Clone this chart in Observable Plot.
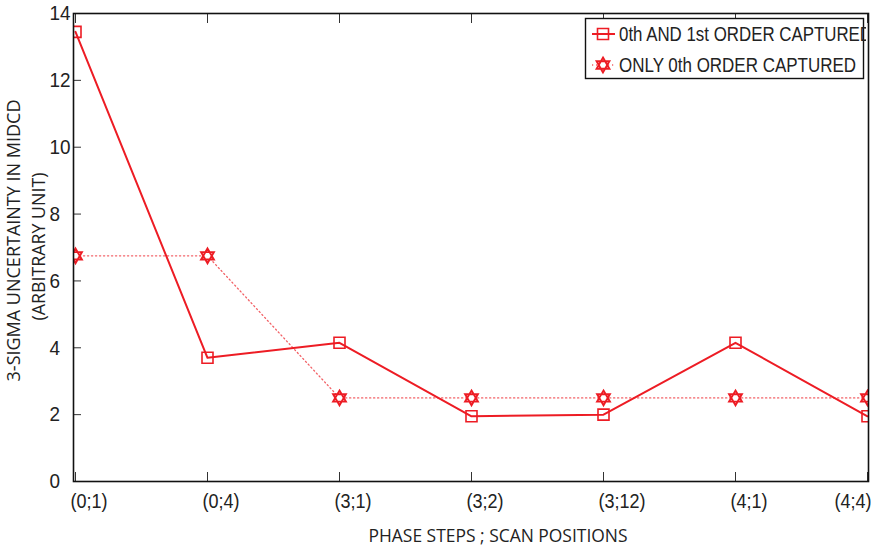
<!DOCTYPE html>
<html><head><meta charset="utf-8">
<script src="https://cdn.jsdelivr.net/npm/d3@7"></script>
<script src="https://cdn.jsdelivr.net/npm/@observablehq/plot@0.6"></script>
<style>
html,body{margin:0;padding:0;background:#fff;}
#wrap{position:relative;width:873px;height:548px;overflow:hidden;background:#fff;}
#legend{position:absolute;left:0;top:0;}
</style></head><body><div id="wrap"></div>
<script>
// ---- data ----
const categories = ["(0;1)", "(0;4)", "(3;1)", "(3;2)", "(3;12)", "(4;1)", "(4;4)"];
const bothOrders = [13.45, 3.7, 4.15, 1.95, 2.0, 4.15, 1.95];
const zerothOnly = [6.75, 6.75, 2.5, 2.5, 2.5, 2.5, 2.5];
const yTicks = [0, 2, 4, 6, 8, 10, 12, 14];
const seriesNames = ["0th AND 1st ORDER CAPTURED", "ONLY 0th ORDER CAPTURED"];
const xTitle = "PHASE STEPS ; SCAN POSITIONS";
const yTitle = ["3-SIGMA UNCERTAINTY IN MIDCD", "(ARBITRARY UNIT)"];

const rows = categories.map((c, i) => ({cat: c, a: bothOrders[i], b: zerothOnly[i]}));

const red = "#ed1c24";
const sansFont = "'Liberation Sans', Arial, Helvetica, sans-serif";
const titleFont = "'Open Sans', 'Noto Sans', sans-serif";

// custom symbols: r = sqrt(size/PI) is the nominal radius
const hexagram = {
  draw(ctx, size) {
    const r = Math.sqrt(size / Math.PI);
    for (const rot of [-Math.PI / 2, Math.PI / 2]) {
      for (let i = 0; i < 3; i++) {
        const a = rot + i * 2 * Math.PI / 3;
        const x = r * Math.cos(a), y = r * Math.sin(a);
        if (i) ctx.lineTo(x, y); else ctx.moveTo(x, y);
      }
      ctx.closePath();
    }
  }
};
const squareSym = {
  draw(ctx, size) {
    const h = Math.sqrt(size / Math.PI);
    ctx.moveTo(-h, -h); ctx.lineTo(h, -h); ctx.lineTo(h, h); ctx.lineTo(-h, h); ctx.closePath();
  }
};

const last = categories[categories.length - 1];

const plot = Plot.plot({
  width: 873, height: 548,
  marginLeft: 73, marginRight: 5, marginTop: 13, marginBottom: 67,
  style: {fontFamily: sansFont, background: "white", overflow: "visible"},
  x: {type: "point", domain: categories, padding: 0, axis: null},
  y: {domain: [0, 14], axis: null},
  marks: [
    Plot.lineY(rows, {x: "cat", y: "b", stroke: red, strokeWidth: 1.3, strokeDasharray: "1.2,2.8", strokeOpacity: 0.7}),
    Plot.lineY(rows, {x: "cat", y: "a", stroke: red, strokeWidth: 2}),
    Plot.dot(rows, {x: "cat", y: "b", symbol: hexagram, r: 7.4, stroke: red, strokeWidth: 1.9, fill: "white", clip: "frame"}),
    Plot.dot(rows, {x: "cat", y: "a", symbol: squareSym, r: 5.5, stroke: red, strokeWidth: 1.6, fill: "none", clip: "frame"}),
    Plot.axisX({anchor: "bottom", tickSize: -9, tickFormat: () => "", label: null, stroke: "#333"}),
    Plot.axisX({anchor: "top", tickSize: -9, tickFormat: () => "", label: null, stroke: "#333"}),
    Plot.axisY({anchor: "left", ticks: yTicks, tickSize: -8, tickFormat: () => "", label: null, stroke: "#333"}),
    Plot.frame({stroke: "#111", strokeWidth: 1.6}),
    // tick labels
    Plot.text(categories.filter(c => c !== last), {x: d => d, text: d => d, frameAnchor: "bottom", textAnchor: "start", lineAnchor: "middle", dx: -5, dy: 20, fontSize: 20, fill: "#222", className: "cond"}),
    Plot.text([last], {x: d => d, text: d => d, frameAnchor: "bottom", textAnchor: "end", lineAnchor: "middle", dx: 4, dy: 20, fontSize: 20, fill: "#222", className: "cond"}),
    Plot.text(yTicks, {y: d => d, text: d => String(d), frameAnchor: "left", textAnchor: "start", lineAnchor: "middle", dx: -24, fontSize: 21, fill: "#222", className: "cond"}),
    // axis titles
    Plot.text([xTitle], {text: d => d, frameAnchor: "bottom", textAnchor: "middle", lineAnchor: "middle", dx: 27, dy: 54, fontSize: 19, fontFamily: titleFont, fill: "#222", className: "xtitle"}),
    Plot.text([yTitle[0]], {text: d => d, frameAnchor: "left", textAnchor: "middle", rotate: -90, lineAnchor: "middle", dx: -59, dy: -7, fontSize: 17, fontFamily: titleFont, fill: "#222", className: "yt1"}),
    Plot.text([yTitle[1]], {text: d => d, frameAnchor: "left", textAnchor: "middle", rotate: -90, lineAnchor: "middle", dx: -34.5, dy: -1, fontSize: 17, fontFamily: titleFont, fill: "#222", className: "yt2"})
  ]
});

const wrap = document.getElementById("wrap");
wrap.appendChild(plot);

// legend (overlay)
const lg = d3.select(wrap).append("svg").attr("id", "legend")
  .attr("width", 866).attr("height", 100)
  .style("font-family", sansFont);
lg.append("rect").attr("x", 585.5).attr("y", 18.5).attr("width", 278).attr("height", 60)
  .attr("fill", "white").attr("stroke", "#111").attr("stroke-width", 1.4);
const legendRows = [
  {name: seriesNames[0], y: 34, sym: squareSym, r: 5.5, dash: null, lw: 2, op: 1, fill: "none", sw: 1.6, tw: 253},
  {name: seriesNames[1], y: 65, sym: hexagram, r: 7.4, dash: "1.2,2.8", lw: 1.3, op: 0.7, fill: "white", sw: 1.9, tw: 237}
];
for (const row of legendRows) {
  lg.append("line").attr("x1", 592).attr("x2", 615).attr("y1", row.y).attr("y2", row.y)
    .attr("stroke", red).attr("stroke-width", row.lw).attr("stroke-opacity", row.op)
    .attr("stroke-dasharray", row.dash);
  lg.append("path").attr("transform", `translate(603,${row.y})`)
    .attr("d", d3.symbol(row.sym, row.r * row.r * Math.PI)())
    .attr("stroke", red).attr("stroke-width", row.sw).attr("fill", row.fill);
  lg.append("text").attr("x", 619).attr("y", row.y).attr("dy", "0.36em")
    .attr("font-size", 20).attr("fill", "#222")
    .attr("textLength", row.tw).attr("lengthAdjust", "spacingAndGlyphs")
    .text(row.name);
}

// condense Helvetica-narrow style labels (unrotated texts)
function fit(sel, fn) {
  plot.querySelectorAll(sel).forEach(el => {
    const w = el.getComputedTextLength();
    if (w > 0) {
      el.setAttribute("textLength", fn(w, el.textContent));
      el.setAttribute("lengthAdjust", "spacingAndGlyphs");
    }
  });
}
fit("g.cond text", w => w * 0.9);
fit("g.xtitle text", () => 259);
// rotated titles: scale font size to reach the target length
function fitSize(sel, target) {
  plot.querySelectorAll(sel).forEach(el => {
    const w = el.getComputedTextLength();
    if (w > 0) {
      const fs = parseFloat(getComputedStyle(el).fontSize) || 17;
      el.style.fontSize = (fs * target / w) + "px";
    }
  });
}
fitSize("g.yt1 text", 282);
fitSize("g.yt2 text", 148);
</script>
</body></html>
